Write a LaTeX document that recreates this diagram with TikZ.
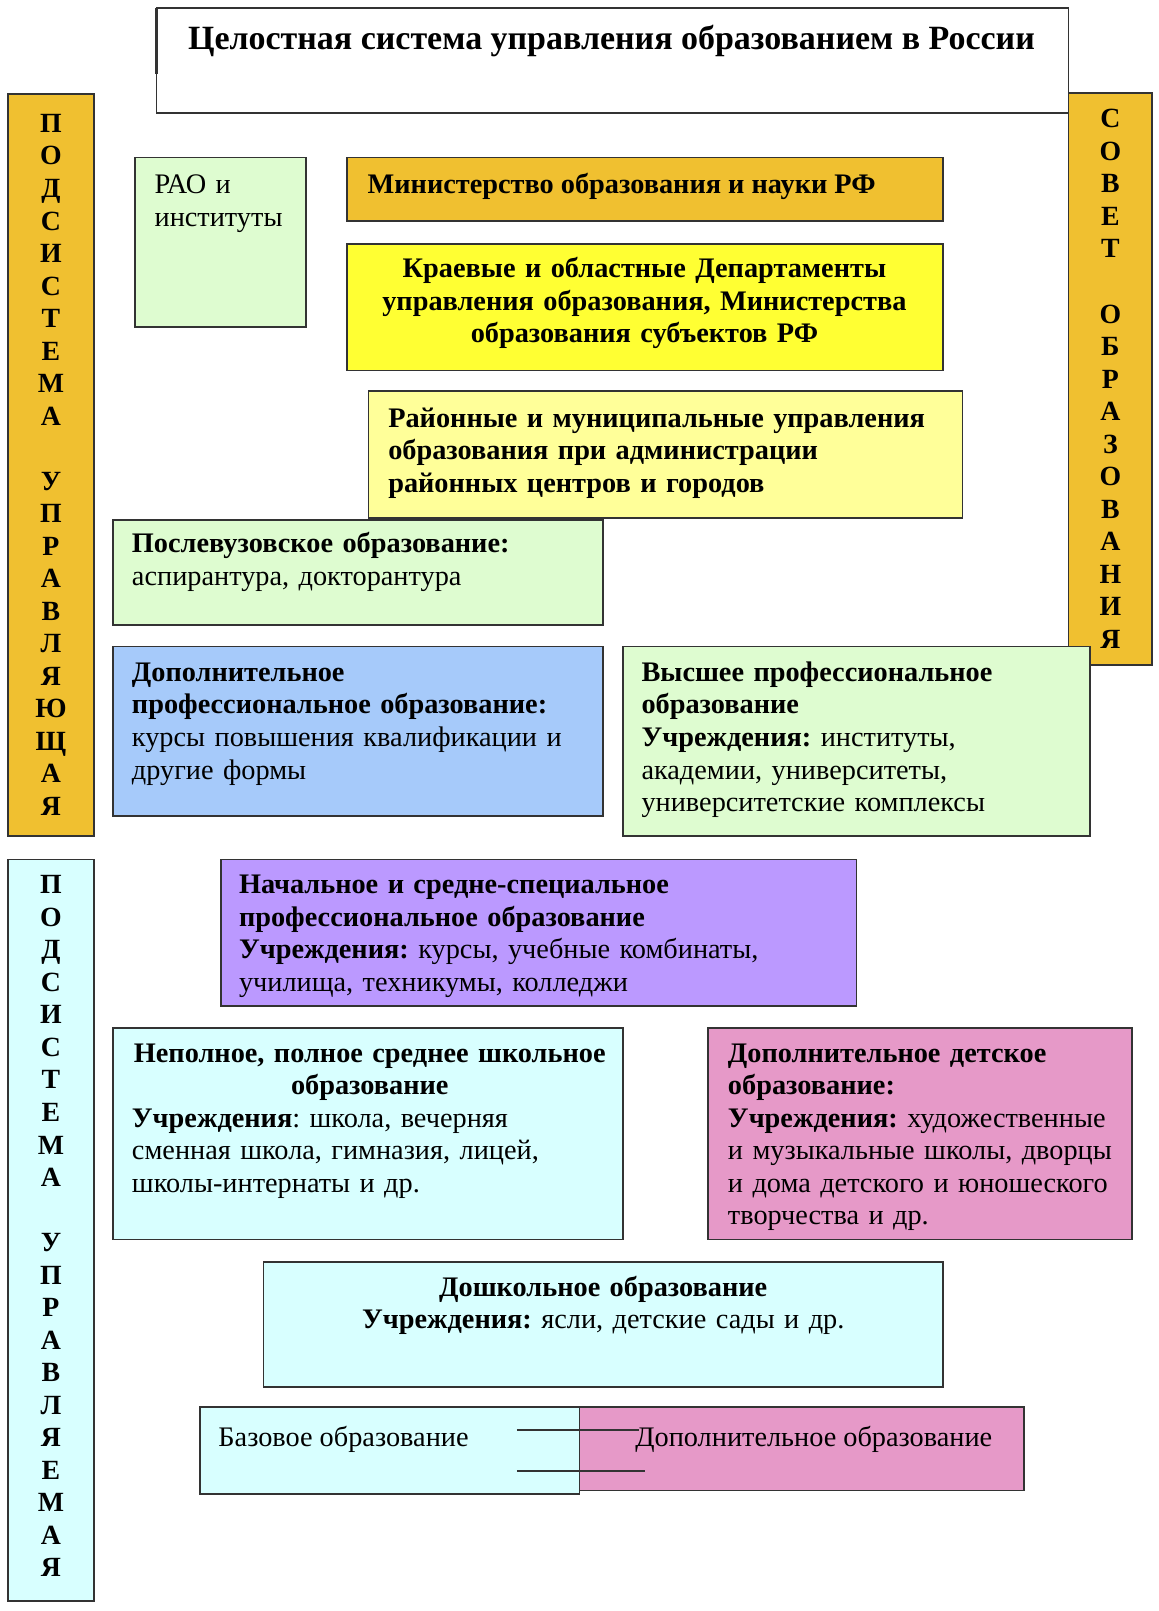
\documentclass[tikz,border=0pt]{standalone}
\usepackage{fontspec}
\setmainfont{Liberation Serif}
\usetikzlibrary{positioning}
\definecolor{gold}{RGB}{240,192,48}
\definecolor{yell}{RGB}{255,255,51}
\definecolor{paleyell}{RGB}{255,255,153}
\definecolor{palegreen}{RGB}{222,252,208}
\definecolor{paleblue}{RGB}{166,202,250}
\definecolor{violet}{RGB}{187,153,255}
\definecolor{palecyan}{RGB}{216,255,255}
\definecolor{rose}{RGB}{230,153,200}
\frenchspacing
\tikzset{
	blk/.style={draw=black!80, line width=1.8pt, anchor=north west, inner sep=0, outer sep=0},
	txt/.style={anchor=base west, inner sep=0, align=left, font=\fontsize{27.5}{31.6}\selectfont},
	ctxt/.style={anchor=base, inner sep=0, align=center, font=\fontsize{27.5}{31.6}\selectfont},
	barletters/.style={inner sep=0, align=center, font=\bfseries\fontsize{27}{31.6}\selectfont},
	sep/.style={color=black!80, line width=2.2pt}
}

\begin{document}
\begin{tikzpicture}[x=1pt,y=-1pt,scale=1.0293,every node/.append style={transform shape}]
	\useasboundingbox (0,0) rectangle (1125,1565);
	
	% side bars
	\node[blk,fill=gold,minimum width=83pt,minimum height=721pt] (lbar) at (8,91) {};
	\node[blk,fill=palecyan,minimum width=83pt,minimum height=720pt] (lbar2) at (8,835) {};
	\node[blk,fill=gold,minimum width=81pt,minimum height=556pt] (rbar) at (1038,90) {};
	\node[barletters] (lbartxt) at (lbar.center) {П\\О\\Д\\С\\И\\С\\Т\\Е\\М\\А\\[31.6pt]У\\П\\Р\\А\\В\\Л\\Я\\Ю\\Щ\\А\\Я};
	\node[barletters] (lbar2txt) at ([yshift=4pt]lbar2.center) {П\\О\\Д\\С\\И\\С\\Т\\Е\\М\\А\\[31.6pt]У\\П\\Р\\А\\В\\Л\\Я\\Е\\М\\А\\Я};
	\node[barletters] (rbartxt) at (rbar.center) {С\\О\\В\\Е\\Т\\[31.6pt]О\\Б\\Р\\А\\З\\О\\В\\А\\Н\\И\\Я};
	
	% title
	\node[blk,fill=white,minimum width=886pt,minimum height=102pt] (title) at (152,8) {};
	\draw[line width=3pt,black!80] (title.north west) -- ++(0,64);
	\node[ctxt,font=\bfseries\fontsize{33}{38}\selectfont] (titletxt) at (594,48) {Целостная система управления образованием в России};
	
	% upper blocks
	\node[blk,fill=palegreen,minimum width=166pt,minimum height=165pt] (rao) at (131,153) {};
	\node[txt,text width=140pt] (raotxt) at (150,188) {РАО и\\институты};
	\node[blk,fill=gold,minimum width=579pt,minimum height=62pt] (minobr) at (337,153) {};
	\node[txt,font=\bfseries\fontsize{27.5}{31.6}\selectfont] (minobrtxt) at (357,188) {Министерство образования и науки РФ};
	\node[blk,fill=yell,minimum width=579pt,minimum height=123pt] (kraev) at (337,237) {};
	\node[ctxt,text width=570pt,font=\bfseries\fontsize{27.5}{31.6}\selectfont] (kraevtxt) at (626,270) {Краевые и областные Департаменты\\управления образования, Министерства\\образования субъектов РФ};
	\node[blk,fill=paleyell,minimum width=577pt,minimum height=123pt] (rayon) at (358,380) {};
	\node[txt,text width=556pt,font=\bfseries\fontsize{27.5}{31.6}\selectfont] (rayontxt) at (377,415) {Районные и муниципальные управления\\образования при администрации\\районных центров и городов};
	
	% professional education
	\node[blk,fill=palegreen,minimum width=476pt,minimum height=102pt] (posle) at (110,505) {};
	\node[txt,text width=460pt] (posletxt) at (128,537) {\textbf{Послевузовское образование:}\\аспирантура, докторантура};
	\node[blk,fill=paleblue,minimum width=476pt,minimum height=165pt] (dpo) at (110,628) {};
	\node[txt,text width=460pt] (dpotxt) at (128,662) {\textbf{Дополнительное}\\\textbf{профессиональное образование:}\\курсы повышения квалификации и\\другие формы};
	\node[blk,fill=palegreen,minimum width=454pt,minimum height=184pt] (vpo) at (605,628) {};
	\node[txt,text width=436pt] (vpotxt) at (623,662) {\textbf{Высшее профессиональное}\\\textbf{образование}\\\textbf{Учреждения:} институты,\\академии, университеты,\\университетские комплексы};
	\node[blk,fill=violet,minimum width=617pt,minimum height=142pt] (spo) at (215,835) {};
	\node[txt,text width=600pt] (spotxt) at (232,868) {\textbf{Начальное и средне-специальное}\\\textbf{профессиональное образование}\\\textbf{Учреждения:} курсы, учебные комбинаты,\\училища, техникумы, колледжи};
	
	% school and children
	\node[blk,fill=palecyan,minimum width=495pt,minimum height=205pt] (school) at (110,999) {};
	\node[txt,text width=462pt] (schooltxt) at (128,1032) {{\centering\textbf{Неполное, полное среднее школьное}\\\textbf{образование}\par}\textbf{Учреждения}: школа, вечерняя\\сменная школа, гимназия, лицей,\\школы-интернаты и др.};
	\node[blk,fill=rose,minimum width=412pt,minimum height=205pt] (dod) at (688,999) {};
	\node[txt,text width=392pt] (dodtxt) at (707,1032) {\textbf{Дополнительное детское}\\\textbf{образование:}\\\textbf{Учреждения:} художественные\\и музыкальные школы, дворцы\\и дома детского и юношеского\\творчества и др.};
	\node[blk,fill=palecyan,minimum width=660pt,minimum height=121pt] (doshk) at (256,1226) {};
	\node[ctxt,text width=620pt] (doshktxt) at (586,1259) {\textbf{Дошкольное образование}\\\textbf{Учреждения:} ясли, детские сады и др.};
	
	% bottom pair
	\node[blk,fill=rose,minimum width=432pt,minimum height=81pt] (dop) at (563,1367) {};
	\node[blk,fill=palecyan,minimum width=369pt,minimum height=84pt] (baz) at (194,1367) {};
	\node[txt] (baztxt) at (212,1405) {Базовое образование};
	\node[txt] (doptxt) at (617,1405) {Дополнительное образование};
	\coordinate (l1a) at (502,1389);
	\coordinate (l1b) at (621,1389);
	\coordinate (l2a) at (502,1429);
	\coordinate (l2b) at (626,1429);
	\draw[sep] (l1a) -- (l1b) (l2a) -- (l2b);
	
\end{tikzpicture}
\end{document}
